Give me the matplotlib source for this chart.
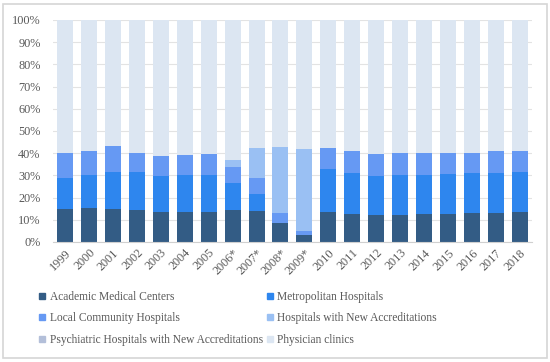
import numpy as np
import matplotlib
matplotlib.use("Agg")
import matplotlib.pyplot as plt
from matplotlib.patches import Rectangle
from matplotlib.lines import Line2D

plt.rcParams['font.family'] = ['Liberation Serif', 'DejaVu Serif']

years = ["1999", "2000", "2001", "2002", "2003", "2004", "2005", "2006*", "2007*", "2008*",
         "2009*", "2010", "2011", "2012", "2013", "2014", "2015", "2016", "2017", "2018"]

# shares in %
academic = [14.9, 15.2, 15.0, 14.6, 13.4, 13.4, 13.4, 14.4, 14.1, 8.6,
            3.0, 13.7, 12.8, 12.0, 12.3, 12.8, 12.8, 13.1, 13.1, 13.7]
metropolitan = [14.1, 15.2, 16.4, 16.8, 16.4, 16.7, 17.0, 12.1, 7.3, 0.0,
                0.0, 19.2, 18.5, 17.9, 17.9, 17.4, 18.0, 18.0, 18.2, 17.7]
local = [11.3, 10.7, 11.8, 8.8, 9.1, 9.1, 9.4, 7.3, 7.5, 4.6,
         2.0, 9.5, 9.6, 9.9, 10.1, 9.8, 9.5, 9.2, 9.6, 9.5]
new_accred = [0, 0, 0, 0, 0, 0, 0, 3.0, 13.4, 29.7,
              36.8, 0, 0, 0, 0, 0, 0, 0, 0, 0]
psychiatric = [0] * 20

series = [
    ("Academic Medical Centers", academic, "#335c85"),
    ("Metropolitan Hospitals", metropolitan, "#2e86ee"),
    ("Local Community Hospitals", local, "#6699f3"),
    ("Hospitals with New Accreditations", new_accred, "#9ac0f3"),
    ("Psychiatric Hospitals with New Accreditations", psychiatric, "#b3bfd9"),
]
stacked = np.sum([np.array(s[1]) for s in series], axis=0)
physician = 100 - stacked
series.append(("Physician clinics", physician, "#dce6f2"))

fig = plt.figure(figsize=(5.5, 3.62), dpi=100)
fig.patches.append(Rectangle((0.006, 0.012), 0.988, 0.976, transform=fig.transFigure,
                             fill=False, edgecolor="#d6d6d6", linewidth=1.2))

ax = fig.add_axes([0.0964, 0.3315, 0.8706, 0.6133])
x = np.arange(len(years))
bottom = np.zeros(len(years))
for name, vals, col in series:
    ax.bar(x, vals, 0.67, bottom=bottom, color=col, label=name, zorder=2)
    bottom += np.array(vals)

ax.set_xlim(-0.5, len(years) - 0.5)
ax.set_ylim(0, 100)
ax.set_yticks(np.arange(0, 101, 10))
ax.set_yticklabels([f"{v}%" for v in range(0, 101, 10)])
ax.yaxis.grid(True, color="#e3e3e3", linewidth=0.8, zorder=0)
ax.set_axisbelow(True)
for s in ["top", "right", "left"]:
    ax.spines[s].set_visible(False)
ax.spines["bottom"].set_color("#d0d0d0")
ax.tick_params(axis="both", length=0, labelsize=8.8, colors="#595959")
ax.tick_params(axis="y", pad=9)
ax.set_xticks(x)
ax.set_xticklabels(years, rotation=45, ha="right", rotation_mode="anchor")

handles = [Line2D([], [], marker="s", linestyle="none", markersize=5, color=s[2]) for s in series]
labels = [s[0] for s in series]
order = [0, 2, 4, 1, 3, 5]
fig.legend([handles[i] for i in order], [labels[i] for i in order], ncol=2,
           loc="upper left", bbox_to_anchor=(0.06, 0.213), frameon=False,
           fontsize=8.3, labelcolor="#595959", handlelength=0.6, handletextpad=0.35,
           columnspacing=0.3, labelspacing=0.85, borderpad=0)

fig.savefig("out.png", dpi=100)
